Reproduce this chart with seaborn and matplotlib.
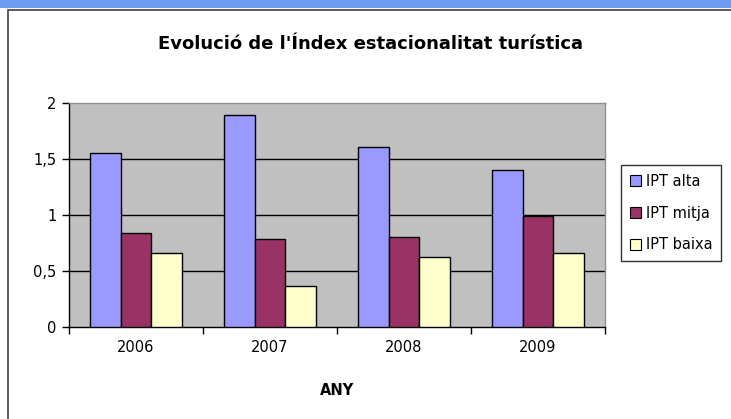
import numpy as np
import matplotlib
matplotlib.use("Agg")
import matplotlib.pyplot as plt
import matplotlib.patches as mpatches
import seaborn as sns
import pandas as pd

# values
years = ["2006", "2007", "2008", "2009"]
ipt_alta = [1.55, 1.89, 1.61, 1.40]
ipt_mitja = [0.84, 0.78, 0.805, 0.99]
ipt_baixa = [0.66, 0.366, 0.626, 0.66]
series_names = ["IPT alta", "IPT mitja", "IPT baixa"]
y_ticks = [0, 0.5, 1, 1.5, 2]
y_tick_labels = ["0", "0,5", "1", "1,5", "2"]

colors = ["#9999FF", "#993366", "#FFFFCC"]

df = pd.DataFrame({
    "ANY": years * 3,
    "valor": ipt_alta + ipt_mitja + ipt_baixa,
    "serie": [s for s in series_names for _ in years],
})

sns.set_style("white")
plt.rcParams["font.family"] = ["DejaVu Sans"]
plt.rcParams["text.color"] = "black"
plt.rcParams["axes.labelcolor"] = "black"
plt.rcParams["xtick.color"] = "black"
plt.rcParams["ytick.color"] = "black"

fig = plt.figure(figsize=(7.31, 4.19), dpi=100)
W, H = 731, 419

# blue band on top and the chart frame
fig.patches.append(mpatches.Rectangle((0, (H - 8) / H), 1, 8 / H, transform=fig.transFigure,
                                      facecolor="#6F9BF0", edgecolor="none", zorder=-1))
fig.patches.append(mpatches.Rectangle((8 / W, -0.1), 1.2, (H - 10) / H + 0.1, transform=fig.transFigure,
                                      facecolor="none", edgecolor="#404040", linewidth=1.2, zorder=-1))

ax = fig.add_axes([69 / W, (H - 326.5) / H, (605 - 69) / W, (326.5 - 103) / H])
ax.set_facecolor("#C0C0C0")

sns.barplot(data=df, x="ANY", y="valor", hue="serie", palette=colors, saturation=1,
            width=0.69, edgecolor="black", linewidth=1, ax=ax, legend=False, zorder=3)

ax.set_ylim(0, 2)
ax.set_xlim(-0.5, 3.5)
ax.set_yticks(y_ticks)
ax.set_yticklabels(y_tick_labels)
for v in [0.5, 1, 1.5]:
    ax.axhline(v, color="black", linewidth=1, zorder=1)

ax.tick_params(axis="y", direction="out", length=5, width=1, colors="black", labelsize=10.5, pad=4, left=True)
ax.tick_params(axis="x", which="major", length=0, colors="black", labelsize=10.5, pad=10)
ax.set_xticks(np.arange(-0.5, 4, 1), minor=True)
ax.tick_params(axis="x", which="minor", direction="out", length=5, width=1, color="black", bottom=True)

for side in ["top", "right"]:
    ax.spines[side].set_color("#909090")
    ax.spines[side].set_linewidth(1)
for side in ["left", "bottom"]:
    ax.spines[side].set_color("black")
    ax.spines[side].set_linewidth(1)

ax.set_ylabel("")
ax.set_xlabel("ANY", fontsize=10.5, fontweight="bold", labelpad=20, color="black")

fig.text(371 / W, (H - 44) / H, "Evolució de l'Índex estacionalitat turística",
         ha="center", va="center", fontsize=13, fontweight="bold", color="black")

handles = [mpatches.Patch(facecolor=c, edgecolor="black", linewidth=0.8) for c in colors]
leg = fig.legend(handles, series_names, loc="upper left",
                 bbox_to_anchor=(621 / W, (H - 165) / H), fontsize=10.5,
                 frameon=True, fancybox=False, handlelength=0.75, handleheight=0.75,
                 handletextpad=0.35, labelspacing=1.15, borderpad=0.6, borderaxespad=0)
leg.get_frame().set_edgecolor("black")
leg.get_frame().set_linewidth(1)
for t in leg.get_texts():
    t.set_color("black")

fig.savefig("out.png", dpi=100)
